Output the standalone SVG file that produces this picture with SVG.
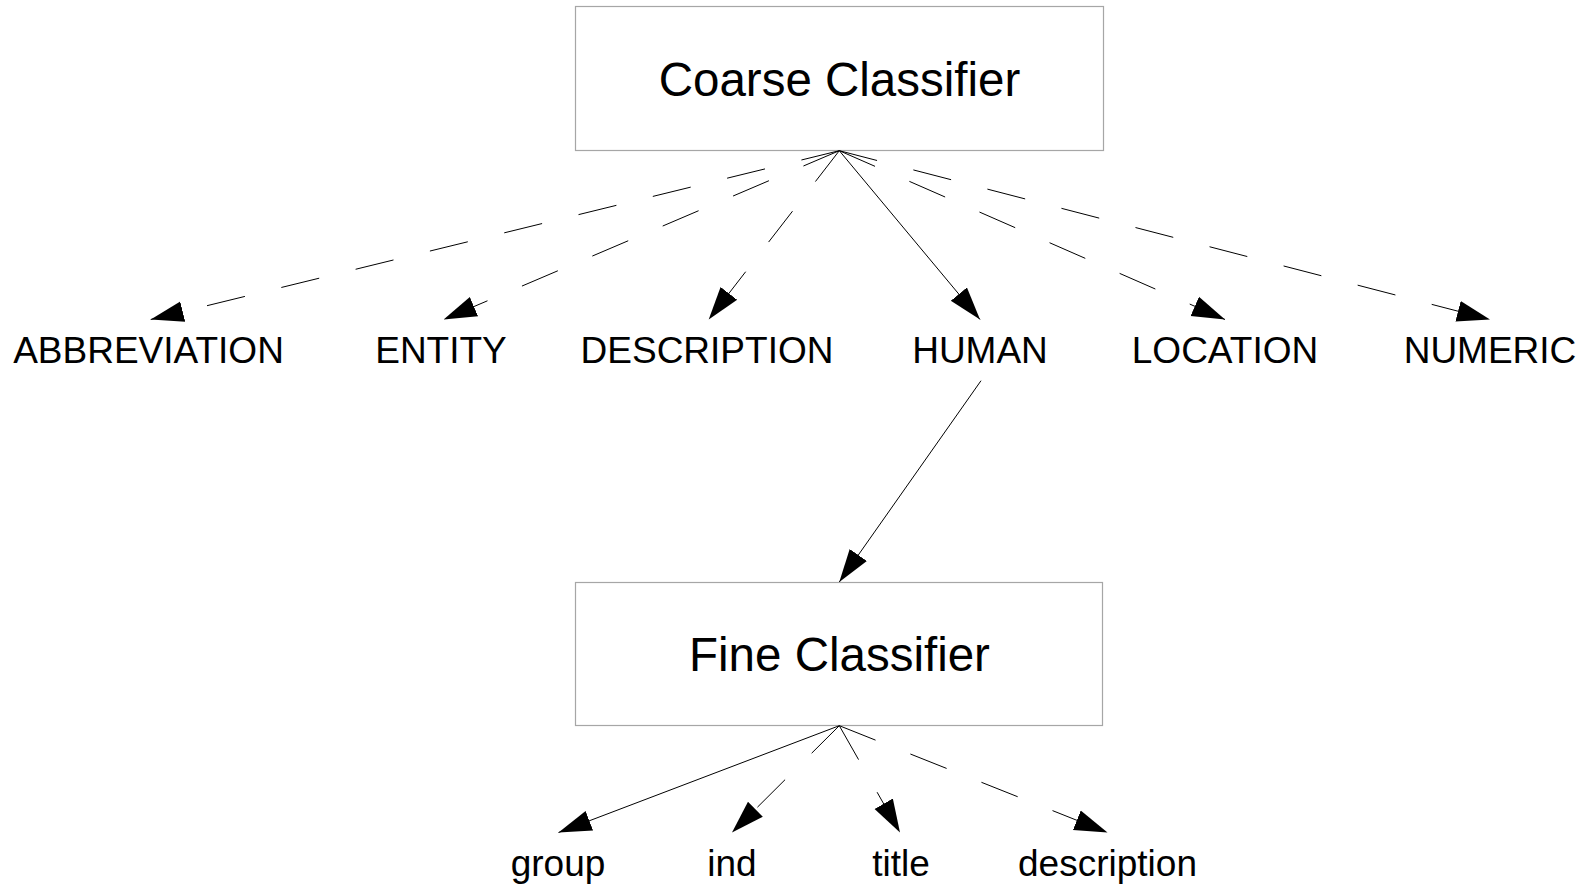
<svg xmlns="http://www.w3.org/2000/svg" width="1587" height="887" viewBox="0 0 1587 887">
<style>
.box{fill:#fff;stroke:#a6a6a6;stroke-width:1.2}
.title{font-family:"Liberation Sans",Arial,sans-serif;font-size:47.5px;fill:#000;text-anchor:middle}
.lbl{font-family:"Liberation Sans",Arial,sans-serif;font-size:37px;fill:#000;text-anchor:middle}
.edge{stroke:#000;stroke-width:1;fill:none}
.dash{stroke-dasharray:39 37.5}
</style>
<defs>
<marker id="ah" markerUnits="userSpaceOnUse" markerWidth="40" markerHeight="30" viewBox="0 -15 40 30" refX="33" refY="0" orient="auto">
<path d="M0,-10.5 L33,0 L0,10.5 z" fill="#000"/>
</marker>
</defs>
<rect width="1587" height="887" fill="#fff"/>
<g id="coarse">
<rect class="box" x="575.5" y="6.5" width="528" height="144"/>
<text class="title" x="839.5" y="96">Coarse Classifier</text>
</g>
<g id="fine">
<rect class="box" x="575.5" y="582.5" width="527" height="143"/>
<text class="title" x="839.5" y="671">Fine Classifier</text>
</g>
<g id="abbreviation"><text class="lbl" x="148.5" y="363">ABBREVIATION</text></g>
<g id="entity"><text class="lbl" x="441" y="363">ENTITY</text></g>
<g id="description-coarse"><text class="lbl" x="707" y="363">DESCRIPTION</text></g>
<g id="human"><text class="lbl" x="980" y="363">HUMAN</text></g>
<g id="location"><text class="lbl" x="1225" y="363">LOCATION</text></g>
<g id="numeric"><text class="lbl" x="1490" y="363">NUMERIC</text></g>
<g id="group"><text class="lbl" x="558" y="876">group</text></g>
<g id="ind"><text class="lbl" x="732" y="876">ind</text></g>
<g id="title"><text class="lbl" x="901" y="876">title</text></g>
<g id="description-fine"><text class="lbl" x="1107.5" y="876">description</text></g>
<g id="connectors">
<line class="edge dash" x1="839.3" y1="150.7" x2="150.7" y2="319.5" marker-end="url(#ah)"/>
<line class="edge dash" x1="839.3" y1="150.7" x2="443.6" y2="319.5" marker-end="url(#ah)"/>
<line class="edge dash" x1="839.3" y1="150.7" x2="708.7" y2="319.5" marker-end="url(#ah)"/>
<line class="edge" x1="839.3" y1="150.7" x2="980" y2="319.5" marker-end="url(#ah)"/>
<line class="edge dash" x1="839.3" y1="150.7" x2="1225" y2="319.5" marker-end="url(#ah)"/>
<line class="edge dash" x1="839.3" y1="150.7" x2="1490" y2="319.5" marker-end="url(#ah)"/>
<line class="edge" x1="981" y1="380.7" x2="839.3" y2="582" marker-end="url(#ah)"/>
<line class="edge" x1="839.3" y1="725.7" x2="558.5" y2="832.5" marker-end="url(#ah)"/>
<line class="edge dash" x1="839.3" y1="725.7" x2="732" y2="832.5" marker-end="url(#ah)"/>
<line class="edge dash" x1="839.3" y1="725.7" x2="900" y2="832.5" marker-end="url(#ah)"/>
<line class="edge dash" x1="839.3" y1="725.7" x2="1107.5" y2="832.5" marker-end="url(#ah)"/>
</g>
</svg>
